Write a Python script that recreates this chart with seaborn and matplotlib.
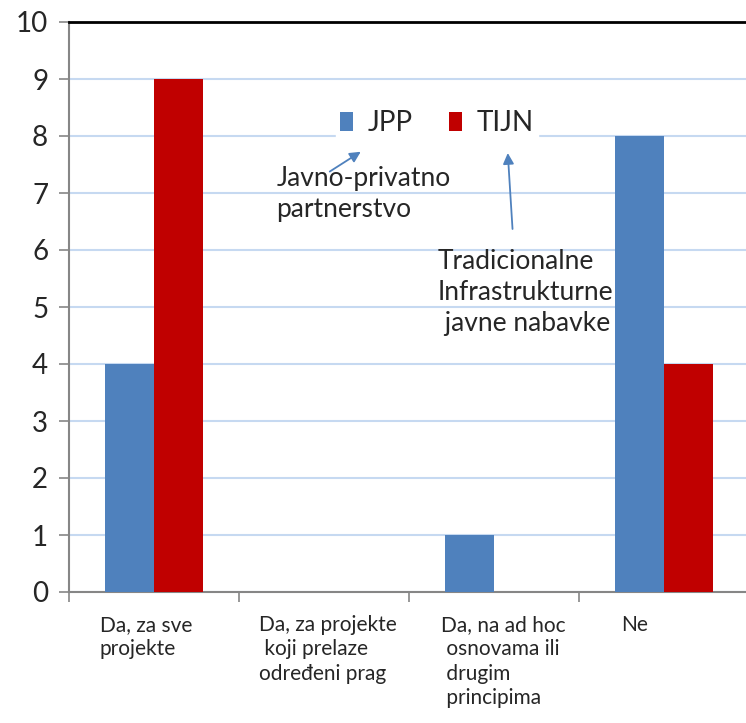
import pandas as pd
import matplotlib.pyplot as plt
import seaborn as sns

# ----------------------------------------
# Data
# ----------------------------------------
categories = [
    "Da, za sve\nprojekte",
    "Da, za projekte\n koji prelaze\nodređeni prag",
    "Da, na ad hoc\n osnovama ili\n drugim\n principima",
    "Ne",
]
jpp_values = [4, 0, 1, 8]
tijn_values = [9, 0, 0, 4]
series_names = ["JPP", "TIJN"]

df = pd.DataFrame({
    "kategorija": categories * 2,
    "serija": [series_names[0]] * 4 + [series_names[1]] * 4,
    "vrijednost": jpp_values + tijn_values,
})

# ----------------------------------------
# Style
# ----------------------------------------
sns.set_style("white")
plt.rcParams["font.family"] = ["Lato", "DejaVu Sans"]

fig = plt.figure(figsize=(7.46, 7.23), dpi=100)
ax = fig.add_axes([69 / 746, 1 - 592 / 723, 680 / 746, 570 / 723])

palette = {"JPP": "#4F81BD", "TIJN": "#C00000"}
sns.barplot(data=df, x="kategorija", y="vrijednost", hue="serija",
            palette=palette, width=0.58, gap=0, saturation=1,
            linewidth=0, ax=ax, zorder=3)

ax.set_xlim(-0.5, 3.5)
ax.set_ylim(0, 10)
ax.set_yticks(range(0, 11))
ax.grid(axis="y", color="#C6D9F1", linewidth=1.5, zorder=0)
ax.set_xlabel("")
ax.set_ylabel("")

ax.spines["right"].set_visible(False)
ax.spines["top"].set_color("black")
ax.spines["top"].set_linewidth(2)
ax.spines["left"].set_color("#868686")
ax.spines["left"].set_linewidth(1.5)
ax.spines["bottom"].set_color("#868686")
ax.spines["bottom"].set_linewidth(1.5)

ax.tick_params(axis="y", left=True, length=7, width=1.2, color="#868686",
               labelsize=20, pad=8)
# x ticks between categories
ax.set_xticks([-0.5, 0.5, 1.5, 2.5, 3.5])
ax.set_xticklabels([])
ax.tick_params(axis="x", bottom=True, length=7, width=1.2, color="#868686")

# category labels, left aligned like in the original
label_offsets = [0.18, 0.12, 0.19, 0.25]
for i, (lab, off) in enumerate(zip(categories, label_offsets)):
    ax.text(i - 0.5 + off, -0.4, lab, ha="left", va="top", fontsize=15,
            linespacing=1.28, clip_on=False)

# legend
leg = ax.legend(loc="center", bbox_to_anchor=((437 - 69) / 680, (592 - 123) / 570),
                ncol=2, frameon=True, fontsize=20, handlelength=0.45,
                handleheight=0.7, handletextpad=0.55, columnspacing=1.3,
                borderpad=0.15)
leg.get_frame().set_edgecolor("white")
leg.get_frame().set_facecolor("white")
leg.get_frame().set_alpha(1)
leg.get_frame().set_boxstyle("square", pad=0)
leg.set_zorder(5)

# annotations
arrow = dict(arrowstyle="-|>", color="#4F81BD", lw=1.3, mutation_scale=16)
ax.text(0.72, 6.98, "Javno-privatno\npartnerstvo", fontsize=19,
        ha="left", va="center", linespacing=1.3)
ax.annotate("", xy=(1.23, 7.75), xytext=(1.02, 7.35), arrowprops=arrow)
ax.text(1.67, 5.26, "Tradicionalne\nInfrastrukturne\n javne nabavke",
        fontsize=19, ha="left", va="center", linespacing=1.3)
ax.annotate("", xy=(2.08, 7.75), xytext=(2.11, 6.32), arrowprops=arrow)

plt.savefig("out.png", dpi=100)
